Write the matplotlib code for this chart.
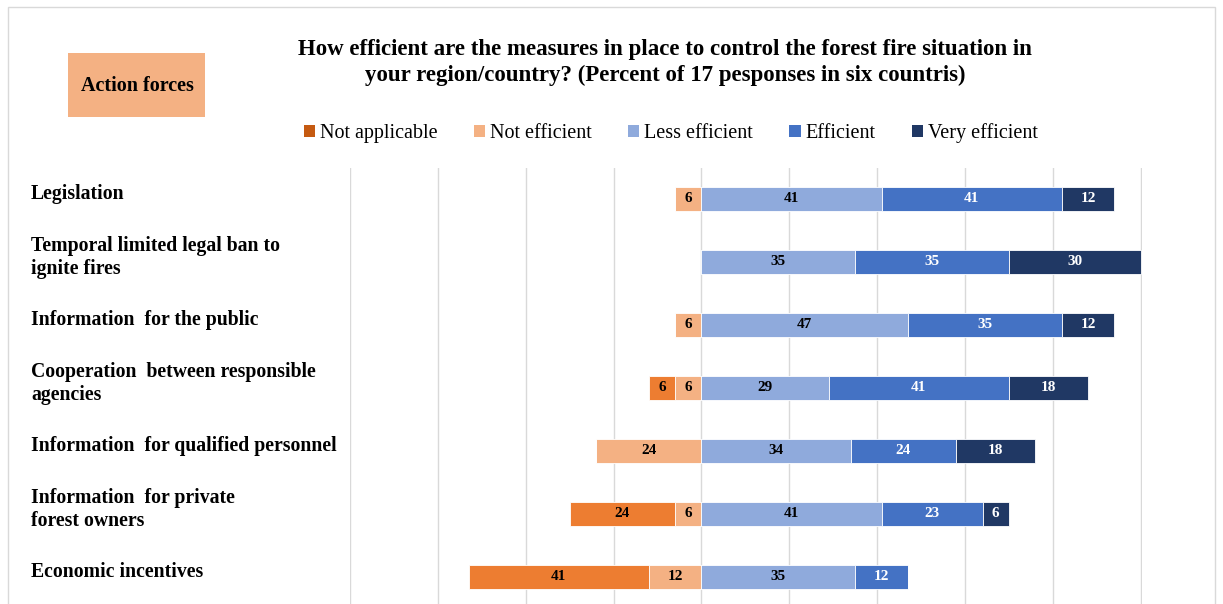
import matplotlib.pyplot as plt
from matplotlib.patches import Rectangle, Patch

categories = [
    "Legislation",
    "Temporal limited legal ban to\nignite fires",
    "Information  for the public",
    "Cooperation  between responsible\nagencies",
    "Information  for qualified personnel",
    "Information  for private\nforest owners",
    "Economic incentives",
]
not_applicable = [0, 0, 0, 6, 0, 24, 41]
not_efficient = [6, 0, 6, 6, 24, 6, 12]
less_efficient = [41, 35, 47, 29, 34, 41, 35]
efficient = [41, 35, 35, 41, 24, 23, 12]
very_efficient = [12, 30, 12, 18, 18, 6, 0]

series_names = ["Not applicable", "Not efficient", "Less efficient", "Efficient", "Very efficient"]
colors = ["#ED7D31", "#F4B183", "#8FAADC", "#4472C4", "#203864"]
legend_colors = ["#C55A11", "#F4B183", "#8FAADC", "#4472C4", "#203864"]
text_colors = ["black", "black", "black", "white", "white"]

plt.rcParams["font.family"] = ["Liberation Serif", "DejaVu Serif"]

fig = plt.figure(figsize=(12.23, 6.04), dpi=100)
ax = fig.add_axes([350 / 1223, 0, 792 / 1223, 1 - 168 / 604])

y = list(range(len(categories)))
h = 0.38


def draw(lefts, widths, color, tcolor):
    bars = ax.barh(y, widths, left=lefts, height=h, color=color,
                   edgecolor="white", linewidth=0.6, zorder=3)
    for b, w in zip(bars, widths):
        if w == 0:
            continue
        ax.text(b.get_x() + b.get_width() / 2, b.get_y() + h / 2, str(w),
                ha="center", va="center", fontsize=11, fontweight="bold",
                color=tcolor, zorder=4)


# negative side: not efficient next to zero, not applicable further out
draw([-v for v in not_efficient], not_efficient, colors[1], text_colors[1])
draw([-(a + b) for a, b in zip(not_applicable, not_efficient)], not_applicable,
     colors[0], text_colors[0])

# positive side
left = [0] * len(categories)
for vals, c, tc in zip([less_efficient, efficient, very_efficient], colors[2:], text_colors[2:]):
    draw(left, vals, c, tc)
    left = [l + v for l, v in zip(left, vals)]

ax.set_xlim(-80, 100.3)
ax.set_ylim(6.43, -0.49)
ax.set_xticks(range(-80, 101, 20))
ax.set_yticks([])
ax.grid(axis="x", color="#d9d9d9", linewidth=1)
ax.set_axisbelow(True)
ax.tick_params(axis="x", length=0, labelbottom=False)
for s in ax.spines.values():
    s.set_visible(False)

# category labels to the left of the plot area
label_x = (31 - 350) / 792
for i, cat in enumerate(categories):
    ax.text(label_x, i - 0.07, cat, transform=ax.get_yaxis_transform(),
            fontsize=14.2, fontweight="bold", ha="left", va="center", linespacing=1.2)

fig.suptitle("How efficient are the measures in place to control the forest fire situation in\n"
             "your region/country? (Percent of 17 pesponses in six countris)",
             x=665 / 1223, y=1 - 39 / 604, va="top", fontsize=16.5, fontweight="bold",
             linespacing=1.32)

handles = [Patch(facecolor=c, edgecolor="none") for c in legend_colors]
fig.legend(handles, series_names, loc="center", bbox_to_anchor=(671 / 1223, 1 - 133 / 604),
           ncol=5, frameon=False, fontsize=14.5, handlelength=0.55, handleheight=0.55,
           handletextpad=0.25, columnspacing=1.8)

# "Action forces" tag in the top-left corner
fig.patches.append(Rectangle((68 / 1223, 1 - 117 / 604), 137 / 1223, 64 / 604,
                             transform=fig.transFigure, facecolor="#F4B183",
                             edgecolor="none"))
fig.text(137 / 1223, 1 - 86 / 604, "Action forces", ha="center", va="center",
         fontsize=14.5, fontweight="bold")

# light frame around the chart area
fig.patches.append(Rectangle((8 / 1223, -0.02), 1207 / 1223, 1.02 - 7 / 604,
                             transform=fig.transFigure, facecolor="none",
                             edgecolor="#d9d9d9", linewidth=1))

fig.savefig("out.png", dpi=100)
